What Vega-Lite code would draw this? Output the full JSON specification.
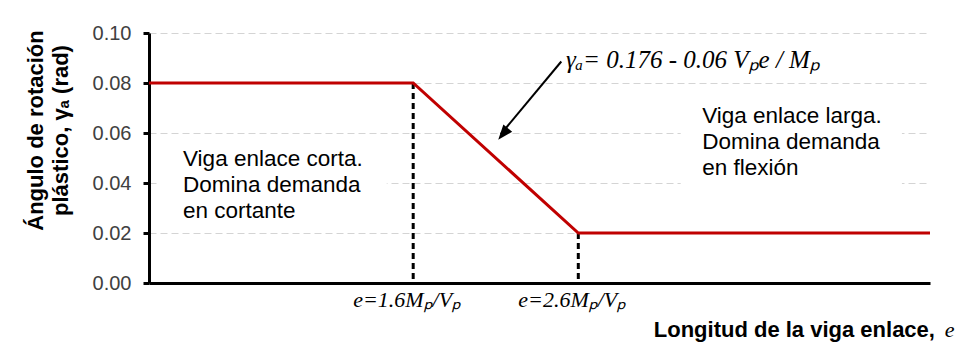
{
  "$schema": "https://vega.github.io/schema/vega-lite/v6.json",
  "autosize": {"type": "none"},
  "padding": {"left": 149, "top": 33, "right": 49, "bottom": 68},
  "width": 781,
  "height": 250,
  "background": "white",
  "config": {"view": {"stroke": null}},
  "layer": [
    {
      "data": {"values": [{"x1": 0.05, "x2": 1.44, "y1": 0.036, "y2": 0.044}, {"x1": 3.22, "x2": 4.56, "y1": 0.036, "y2": 0.064}]},
      "mark": {"type": "rect", "fill": "white", "stroke": null},
      "encoding": {
        "x": {"field": "x1", "type": "quantitative", "scale": {"domain": [0, 4.73], "nice": false, "zero": false},
          "axis": {"labels": false, "ticks": false, "grid": false, "title": null, "domainColor": "black", "domainWidth": 3}},
        "x2": {"field": "x2"},
        "y": {"field": "y1", "type": "quantitative", "scale": {"domain": [0, 0.1], "nice": false, "zero": false},
          "axis": {
            "values": [0, 0.02, 0.04, 0.06, 0.08, 0.1],
            "format": ".2f",
            "labelFont": "Liberation Sans",
            "labelFontSize": 20,
            "labelColor": "#404040",
            "labelPadding": 12,
            "tickSize": 6,
            "tickWidth": 3,
            "tickColor": "black",
            "domainColor": "black",
            "domainWidth": 3,
            "grid": true,
            "gridDash": [7, 4],
            "gridColor": "#d4d4d4",
            "gridWidth": 1,
            "title": ["Ángulo de rotación", "plástico,  γₐ  (rad)"],
            "titleFont": "Liberation Sans",
            "titleFontSize": 22,
            "titleFontWeight": "bold",
            "titleColor": "black",
            "titleX": -107,
            "titleY": 97,
            "titleAngle": -90,
            "titleAlign": "center",
            "titleBaseline": "alphabetic",
            "titleLineHeight": 25
          }},
        "y2": {"field": "y2"}
      }
    },
    {
      "data": {"values": [{"e": 1.6, "g": 0.08}, {"e": 2.6, "g": 0.02}]},
      "mark": {"type": "rule", "color": "black", "strokeWidth": 3, "strokeDash": [6, 4]},
      "encoding": {
        "x": {"field": "e", "type": "quantitative"},
        "y": {"field": "g", "type": "quantitative"},
        "y2": {"datum": 0}
      }
    },
    {
      "data": {"values": [{"e": 0, "g": 0.08}, {"e": 1.6, "g": 0.08}, {"e": 2.6, "g": 0.02}, {"e": 4.73, "g": 0.02}]},
      "mark": {"type": "line", "color": "#c00000", "strokeWidth": 3},
      "encoding": {
        "x": {"field": "e", "type": "quantitative"},
        "y": {"field": "g", "type": "quantitative"}
      }
    },
    {
      "data": {"values": [{}]},
      "mark": {"type": "rule", "color": "black", "strokeWidth": 2},
      "encoding": {
        "x": {"datum": 2.497},
        "y": {"datum": 0.0886},
        "x2": {"datum": 2.13},
        "y2": {"datum": 0.0595}
      }
    },
    {
      "data": {"values": [{}]},
      "mark": {"type": "point", "filled": true, "color": "black", "opacity": 1, "shape": "M0,0L0.38,1L-0.38,1Z", "size": 900, "angle": 219.6},
      "encoding": {
        "x": {"datum": 2.115},
        "y": {"datum": 0.0573}
      }
    },
    {
      "data": {"values": [{}]},
      "mark": {"type": "text", "font": "Liberation Serif", "fontStyle": "italic", "fontSize": 25, "align": "left", "baseline": "alphabetic", "color": "black"},
      "encoding": {
        "x": {"datum": 2.525},
        "y": {"datum": 0.086},
        "text": {"value": "γₐ= 0.176 - 0.06 Vₚe / Mₚ"}
      }
    },
    {
      "data": {"values": [{}]},
      "mark": {"type": "text", "font": "Liberation Sans", "fontSize": 22.5, "align": "left", "baseline": "alphabetic", "lineHeight": 26, "color": "black"},
      "encoding": {
        "x": {"datum": 0.206},
        "y": {"datum": 0.0468},
        "text": {"value": ["Viga enlace corta.", "Domina demanda", "en cortante"]}
      }
    },
    {
      "data": {"values": [{}]},
      "mark": {"type": "text", "font": "Liberation Sans", "fontSize": 22.5, "align": "left", "baseline": "alphabetic", "lineHeight": 26, "color": "black"},
      "encoding": {
        "x": {"datum": 3.35},
        "y": {"datum": 0.064},
        "text": {"value": ["Viga enlace larga.", "Domina demanda", "en flexión"]}
      }
    },
    {
      "data": {"values": [{"e": 1.6, "lab": "e=1.6Mₚ/Vₚ"}, {"e": 2.6, "lab": "e=2.6Mₚ/Vₚ"}]},
      "mark": {"type": "text", "font": "Liberation Serif", "fontStyle": "italic", "fontSize": 22, "align": "center", "baseline": "alphabetic", "color": "black", "dx": -6},
      "encoding": {
        "x": {"field": "e", "type": "quantitative"},
        "y": {"datum": -0.0095},
        "text": {"field": "lab"}
      }
    },
    {
      "data": {"values": [{}]},
      "mark": {"type": "text", "font": "Liberation Sans", "fontWeight": "bold", "fontSize": 22, "align": "right", "baseline": "alphabetic", "color": "black"},
      "encoding": {
        "x": {"datum": 4.76},
        "y": {"datum": -0.0216},
        "text": {"value": "Longitud de la viga enlace,"}
      }
    },
    {
      "data": {"values": [{}]},
      "mark": {"type": "text", "font": "Liberation Serif", "fontStyle": "italic", "fontSize": 22, "align": "left", "baseline": "alphabetic", "color": "black"},
      "encoding": {
        "x": {"datum": 4.82},
        "y": {"datum": -0.0216},
        "text": {"value": "e"}
      }
    }
  ]
}
